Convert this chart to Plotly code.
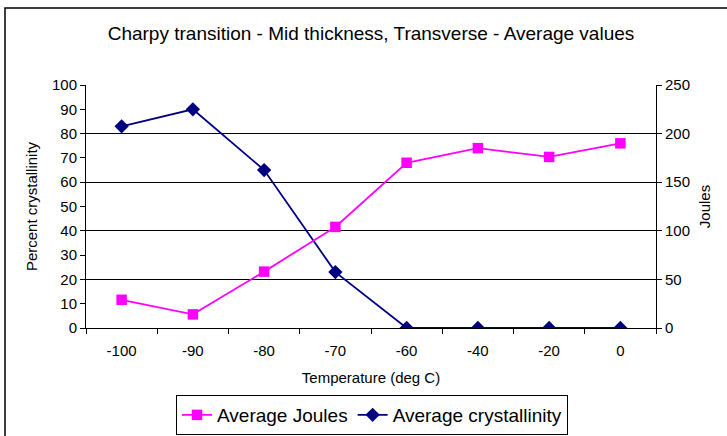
import plotly.graph_objects as go

temperatures = ["-100", "-90", "-80", "-70", "-60", "-40", "-20", "0"]
avg_joules = [29, 14, 58, 104, 170, 185, 176, 190]
avg_crystallinity = [83, 90, 65, 23, 0, 0, 0, 0]

W, H = 727, 436
L, R, T, B = 86, 71, 85, 108
pw, ph = W - L - R, H - T - B

def px(x):
    return (x - L) / pw

def py(y):
    return (H - B - y) / ph

FONT = "Liberation Sans, Arial, sans-serif"

fig = go.Figure()
fig.add_trace(go.Scatter(
    x=temperatures, y=avg_joules, name="Average Joules", yaxis="y2",
    mode="lines+markers",
    line=dict(color="#FF00FF", width=1.8),
    marker=dict(symbol="square", size=10.5, color="#FF00FF"),
))
fig.add_trace(go.Scatter(
    x=temperatures, y=avg_crystallinity, name="Average crystallinity", yaxis="y",
    mode="lines+markers",
    line=dict(color="#000080", width=1.8),
    marker=dict(symbol="diamond", size=11, color="#000080"),
))

fig.update_layout(
    width=W, height=H,
    margin=dict(l=L, r=R, t=T, b=B, pad=0, autoexpand=False),
    paper_bgcolor="white", plot_bgcolor="white",
    font=dict(family=FONT, size=15, color="black"),
    title=dict(text="Charpy transition - Mid thickness, Transverse - Average values",
               x=0.5, xref="paper", y=1 - 33 / H, yanchor="middle",
               font=dict(size=19, color="black")),
    xaxis=dict(type="category", range=[-0.5, 7.5], showgrid=False,
               showline=True, linecolor="black", linewidth=1,
               ticks="outside", tickson="boundaries", ticklen=5, tickcolor="black",
               tickfont=dict(size=15), ticklabelstandoff=9,
               title=dict(text="Temperature (deg C)", font=dict(size=15), standoff=14)),
    yaxis=dict(range=[0, 100], dtick=10, showgrid=False, zeroline=False,
               showline=True, linecolor="black", linewidth=1,
               ticks="outside", ticklen=5, tickcolor="black",
               tickfont=dict(size=15),
               title=dict(text="Percent crystallinity", font=dict(size=15), standoff=10)),
    yaxis2=dict(range=[0, 250], dtick=50, overlaying="y", side="right",
                showgrid=True, gridcolor="black", gridwidth=1, zeroline=False,
                showline=True, linecolor="black", linewidth=1,
                ticks="outside", ticklen=5, tickcolor="black",
                tickfont=dict(size=15),
                title=dict(text="Joules", font=dict(size=15), standoff=10)),
    legend=dict(orientation="h", x=px(372), xanchor="center", y=py(395), yanchor="top",
                bordercolor="black", borderwidth=1, bgcolor="white",
                font=dict(size=19), itemwidth=30, tracegroupgap=0),
    showlegend=True,
    shapes=[dict(type="rect", xref="paper", yref="paper",
                 x0=px(5), x1=px(735), y0=py(8), y1=py(445),
                 line=dict(color="black", width=1.5), fillcolor="rgba(0,0,0,0)",
                 layer="below")],
)

fig.write_html("out.html")
